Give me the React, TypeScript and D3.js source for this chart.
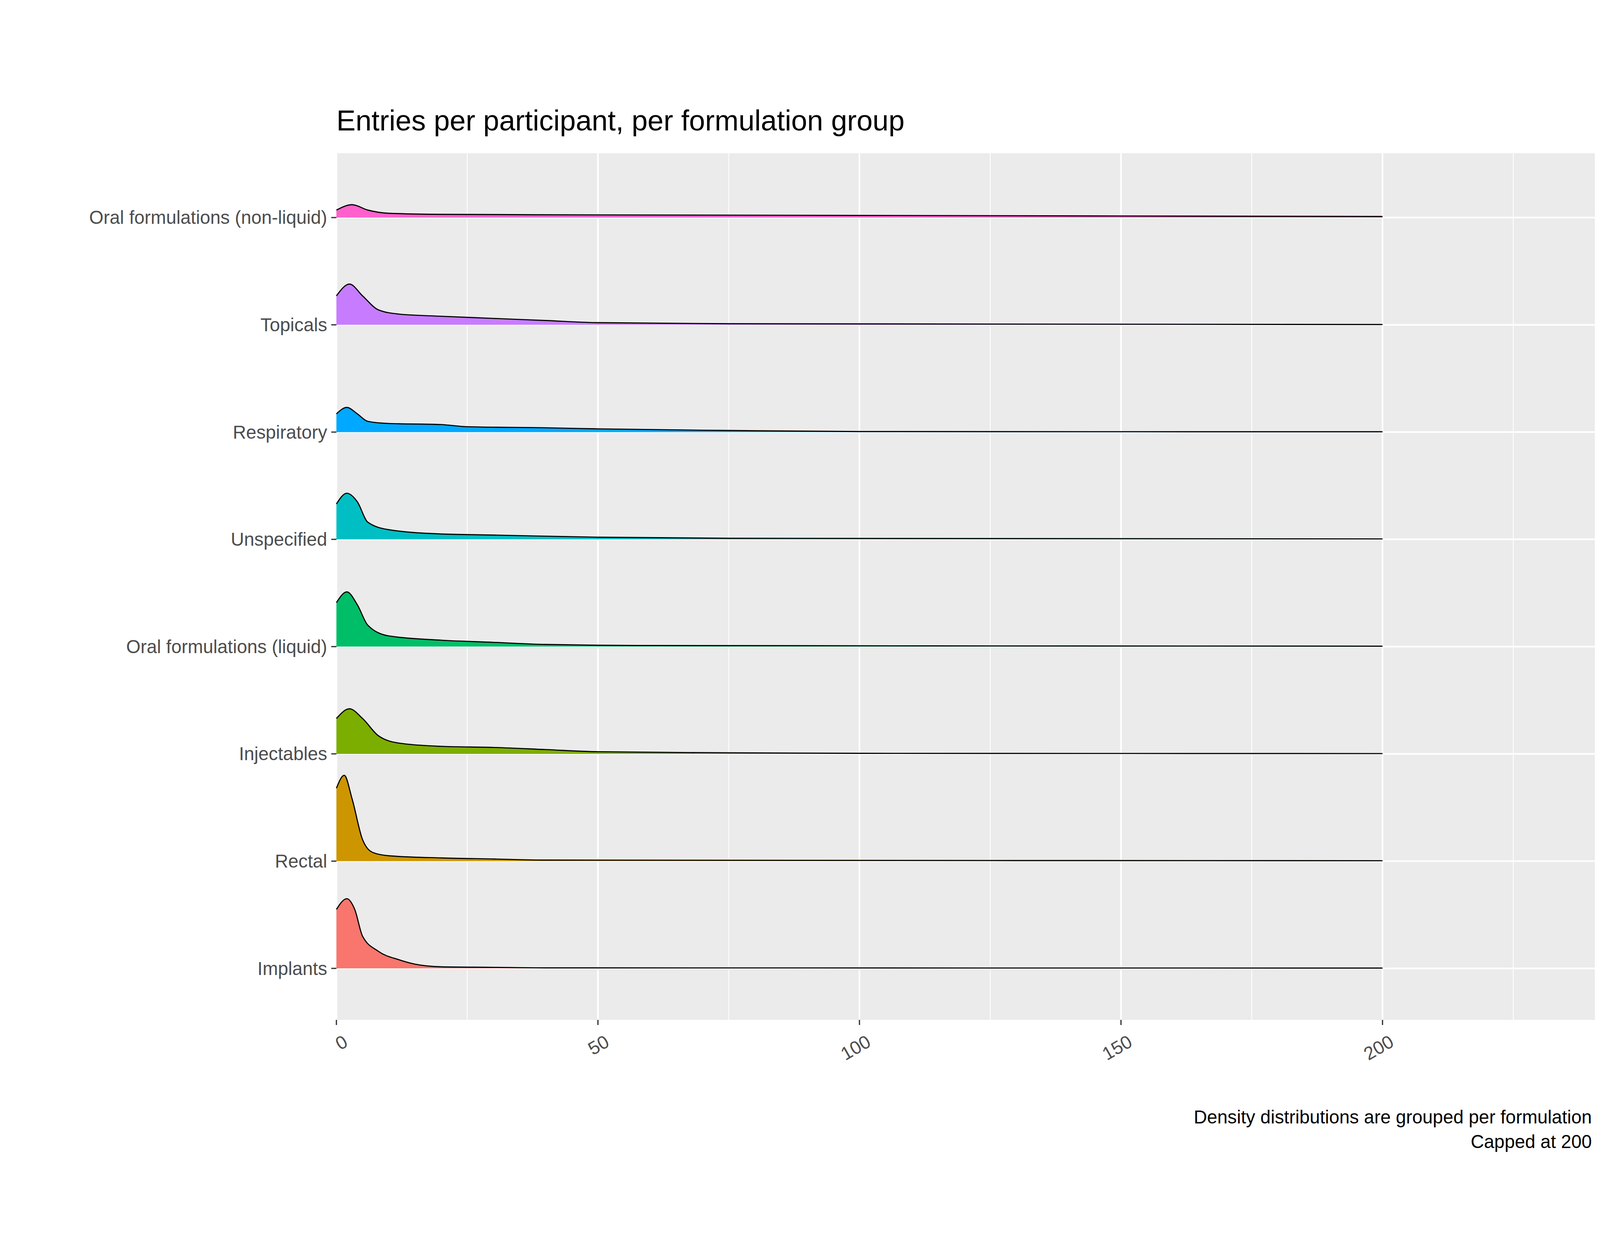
import React from 'react';
import * as d3 from 'd3';

const categories = [
  'Implants', 'Rectal', 'Injectables', 'Oral formulations (liquid)',
  'Unspecified', 'Respiratory', 'Topicals', 'Oral formulations (non-liquid)',
];
const colors = ['#F8766D', '#CD9600', '#7CAE00', '#00BE67', '#00BFC4', '#00A9FF', '#C77CFF', '#FF61CC'];

// estimated ridge heights (in row units) at given x positions
const implantsX = [0, 2, 3.5, 5, 8, 12, 15, 20, 30, 40, 200];
const implantsH = [0.55, 0.65, 0.55, 0.3, 0.16, 0.08, 0.04, 0.015, 0.01, 0.005, 0.003];
const rectalX = [0, 1.5, 3, 5, 7, 10, 20, 30, 40, 200];
const rectalH = [0.68, 0.8, 0.58, 0.2, 0.08, 0.05, 0.03, 0.02, 0.01, 0.004];
const injectX = [0, 2.5, 5, 8, 12, 20, 30, 40, 50, 75, 100, 200];
const injectH = [0.33, 0.42, 0.33, 0.17, 0.1, 0.07, 0.06, 0.04, 0.02, 0.01, 0.005, 0.003];
const liquidX = [0, 2, 4, 6, 10, 20, 30, 40, 60, 200];
const liquidH = [0.41, 0.51, 0.39, 0.2, 0.1, 0.06, 0.04, 0.02, 0.01, 0.004];
const unspecX = [0, 2, 4, 6, 10, 20, 30, 50, 75, 200];
const unspecH = [0.33, 0.43, 0.35, 0.16, 0.09, 0.05, 0.04, 0.02, 0.01, 0.004];
const respX = [0, 2, 4, 6, 10, 20, 25, 40, 50, 75, 100, 200];
const respH = [0.17, 0.23, 0.17, 0.1, 0.08, 0.07, 0.05, 0.04, 0.03, 0.015, 0.005, 0.003];
const topX = [0, 2.5, 5, 8, 12, 20, 30, 40, 50, 75, 200];
const topH = [0.27, 0.38, 0.27, 0.14, 0.1, 0.08, 0.06, 0.04, 0.02, 0.01, 0.003];
const nonliqX = [0, 3, 6, 10, 20, 50, 100, 150, 200];
const nonliqH = [0.07, 0.12, 0.07, 0.04, 0.03, 0.025, 0.02, 0.015, 0.01];

const seriesX = [implantsX, rectalX, injectX, liquidX, unspecX, respX, topX, nonliqX];
const seriesH = [implantsH, rectalH, injectH, liquidH, unspecH, respH, topH, nonliqH];

const xTicks = [0, 50, 100, 150, 200];
const xMinor = [25, 75, 125, 175, 225];

const W = 1560, H = 1040;
const left = 328, right = 1555, top = 60, bottom = 905;
const font = '"Liberation Sans", Arial, sans-serif';

export default function App() {
  const x = d3.scaleLinear().domain([0, 240.6]).range([left, right]);
  const y = d3.scaleLinear().domain([0.52, 8.6]).range([bottom, top]);

  const ridges = categories.map((c, i) => {
    const pts = seriesX[i].map((xv, j) => [xv, seriesH[i][j]] as [number, number]);
    const area = d3.area<[number, number]>()
      .x(d => x(d[0])).y0(y(i + 1)).y1(d => y(i + 1 + d[1]))
      .curve(d3.curveMonotoneX)(pts);
    const line = d3.line<[number, number]>()
      .x(d => x(d[0])).y(d => y(i + 1 + d[1]))
      .curve(d3.curveMonotoneX)(pts);
    return { c, i, area, line };
  }).reverse();

  return (
    <svg width="100vw" height="100vh" viewBox={`0 0 ${W} ${H}`} preserveAspectRatio="xMidYMid meet"
      style={{ position: 'absolute', left: 0, top: 0, background: '#fff', display: 'block' }}>
      <text x={left} y={38} fontFamily={font} fontSize={28}>Entries per participant, per formulation group</text>
      <rect x={left} y={top} width={right - left} height={bottom - top} fill="#EBEBEB" />
      {xMinor.map(t => (
        <line key={'m' + t} x1={x(t)} x2={x(t)} y1={top} y2={bottom} stroke="#fff" strokeWidth={0.8} />
      ))}
      {xTicks.map(t => (
        <line key={'g' + t} x1={x(t)} x2={x(t)} y1={top} y2={bottom} stroke="#fff" strokeWidth={1.6} />
      ))}
      {categories.map((c, i) => (
        <line key={'h' + c} x1={left} x2={right} y1={y(i + 1)} y2={y(i + 1)} stroke="#fff" strokeWidth={1.6} />
      ))}
      {ridges.map(r => (
        <g key={r.c}>
          <path d={r.area || ''} fill={colors[r.i]} />
          <path d={r.line || ''} fill="none" stroke="#000" strokeWidth={1.1} />
        </g>
      ))}
      {categories.map((c, i) => (
        <g key={'yl' + c}>
          <line x1={left - 5} x2={left} y1={y(i + 1)} y2={y(i + 1)} stroke="#333" strokeWidth={1.2} />
          <text x={left - 9} y={y(i + 1)} dy="0.35em" textAnchor="end" fontFamily={font} fontSize={18} fill="#4D4D4D">{c}</text>
        </g>
      ))}
      {xTicks.map(t => (
        <g key={'xl' + t}>
          <line x1={x(t)} x2={x(t)} y1={bottom} y2={bottom + 5} stroke="#333" strokeWidth={1.2} />
          <text transform={`translate(${x(t) + 6},${bottom + 14}) rotate(-30)`} textAnchor="end" dy="0.7em"
            fontFamily={font} fontSize={18} fill="#4D4D4D">{t}</text>
        </g>
      ))}
      <text x={1552} y={1006} textAnchor="end" fontFamily={font} fontSize={18}>Density distributions are grouped per formulation</text>
      <text x={1552} y={1030} textAnchor="end" fontFamily={font} fontSize={18}>Capped at 200</text>
    </svg>
  );
}
